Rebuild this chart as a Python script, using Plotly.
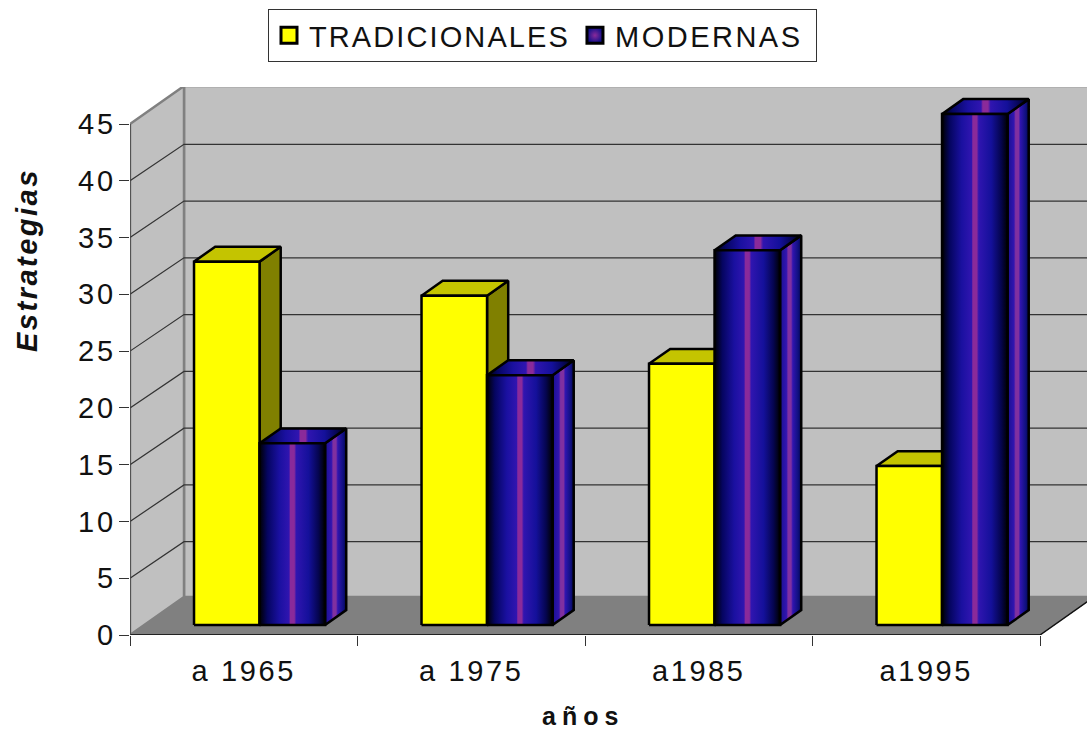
import plotly.graph_objects as go

categories = ["a 1965", "a 1975", "a1985", "a1995"]
tradicionales = [32, 29, 23, 14]
modernas = [16, 22, 33, 45]
y_ticks = [0, 5, 10, 15, 20, 25, 30, 35, 40, 45]

W, H = 1087, 733
L, T, B = 130, 87, 635
X_UNIT = 227.5          # px per category
Y_UNIT = 511 / 45       # px per value unit
DX = 54 / X_UNIT        # depth shift, axis units
DY = 38 / Y_UNIT
DY_GRID = 36.5 / Y_UNIT
X_MAX = (W - L) / X_UNIT
Y_MAX = (B - T) / Y_UNIT
T1, T2 = 0.263, 0.655   # bar front/back depth
GAP, BAR_W = 0.219, 0.288

GRAD_FRONT = [[0, "#000000"], [0.12, "#050560"], [0.3, "#1a10a0"], [0.45, "#3015b0"], [0.47, "#8a2a9a"],
              [0.53, "#8a2a9a"], [0.56, "#3015b0"], [0.75, "#14109a"], [0.9, "#05054f"], [1, "#000000"]]
GRAD_SIDE = [[0, "#1a1090"], [0.3, "#3015b0"], [0.38, "#8030a0"], [0.52, "#8030a0"], [0.6, "#3015b0"],
             [0.85, "#101080"], [1, "#050550"]]


def sp(text, s):
    return f"<span style='letter-spacing:{s}px'>{text}</span>"


def px_x(p):
    return (p - L) / (W - L)


def px_y(p):
    return (B - p) / (B - T)


fig = go.Figure()


def poly(xs, ys, fill=None, grad=None, line="black", width=2.5, name=""):
    kw = dict(fillgradient=dict(type="horizontal", colorscale=grad)) if grad else dict(fillcolor=fill)
    fig.add_trace(go.Scatter(x=xs + xs[:1], y=ys + ys[:1], mode="lines", fill="toself",
                             line=dict(color=line, width=width), showlegend=False,
                             hoverinfo="skip", name=name, **kw))


def seg(xs, ys, color, width, clip=True):
    fig.add_trace(go.Scatter(x=xs, y=ys, mode="lines", line=dict(color=color, width=width),
                             showlegend=False, hoverinfo="skip", cliponaxis=clip))


n = len(categories)
top = y_ticks[-1]

# walls and floor
poly([DX, n + DX, n + DX, DX], [DY, DY, top + DY, top + DY], fill="#C0C0C0", line="#808080", width=2.5, name="back")
poly([0, DX, DX, 0], [0, DY, top + DY, top], fill="#C0C0C0", line="#808080", width=2.5, name="side")
poly([0, n, n + DX, DX], [0, 0, DY, DY], fill="#808080", line="#808080", width=1, name="floor")
seg([n, n + DX], [0, DY], "#111111", 1.5)

# gridlines
for v in y_ticks[1:-1]:
    seg([0, DX, n + DX], [v, v + DY_GRID, v + DY_GRID], "#333333", 1.2)


def bar(x0, value, face=None, top_c=None, side_c=None, grad=None):
    x1 = x0 + BAR_W
    a = lambda x, y, t: (x + t * DX, y + t * DY)
    fl, fr = a(x0, 0, T1), a(x1, 0, T1)
    tl, tr = a(x0, value, T1), a(x1, value, T1)
    bl, br = a(x0, value, T2), a(x1, value, T2)
    br0 = a(x1, 0, T2)
    poly([fr[0], br0[0], br[0], tr[0]], [fr[1], br0[1], br[1], tr[1]], fill=side_c,
         grad=GRAD_SIDE if grad else None, name="side")
    poly([tl[0], tr[0], br[0], bl[0]], [tl[1], tr[1], br[1], bl[1]], fill=top_c, grad=grad, name="top")
    poly([fl[0], fr[0], tr[0], tl[0]], [fl[1], fr[1], tr[1], tl[1]], fill=face, grad=grad, name="front")


for i in range(n):
    bar(i + GAP, tradicionales[i], face="#FFFF00", top_c="#C4C400", side_c="#808000")
    bar(i + GAP + BAR_W, modernas[i], grad=GRAD_FRONT)

# axis lines
seg([0, n], [0, 0], "#222222", 2.2, clip=False)
seg([0, 0], [0, top], "#444444", 1.5, clip=False)

# legend proxies
fig.add_trace(go.Scatter(x=[None], y=[None], mode="markers", name=sp("TRADICIONALES", 2.1),
                         marker=dict(symbol="square", size=16, color="#FFFF00", line=dict(color="black", width=3))))
fig.add_trace(go.Scatter(x=[None], y=[None], mode="markers", name=sp("MODERNA", 2.5) + sp("S", 10),
                         marker=dict(symbol="square", size=16, color="#10108a",
                                     gradient=dict(type="radial", color="#8a2a9a"),
                                     line=dict(color="black", width=3))))

FONT = "Liberation Sans, Arial, sans-serif"
fig.update_layout(
    width=W, height=H, margin=dict(l=L, r=0, t=T, b=H - B, pad=0),
    paper_bgcolor="white", plot_bgcolor="white",
    font=dict(family=FONT, size=29, color="#111111"),
    showlegend=True,
    legend=dict(orientation="h", x=px_x(268), y=px_y(9), xanchor="left", yanchor="top",
                bordercolor="#333333", borderwidth=1, bgcolor="white",
                font=dict(size=29), itemsizing="trace", itemwidth=30, traceorder="normal"),
    xaxis=dict(range=[0, X_MAX], showgrid=False, zeroline=False, showline=False,
               tickmode="array", tickvals=[i + 0.5 for i in range(n)],
               ticktext=[sp(c, 2.6) for c in categories], ticks="outside", ticklen=0, ticklabelstandoff=10,
               minor=dict(tickmode="array", tickvals=list(range(n + 1)), ticks="outside", ticklen=10,
                          tickcolor="#333333", tickwidth=1.2, showgrid=False)),
    yaxis=dict(range=[0, Y_MAX], showgrid=False, zeroline=False, showline=False,
               tickmode="array", tickvals=y_ticks, ticktext=[sp(v, 3) for v in y_ticks],
               ticks="outside", ticklen=10, tickcolor="#333333", tickwidth=1.2, ticklabelstandoff=-3),
    annotations=[
        dict(text=sp("Estrategias", 2.5), xref="paper", yref="paper", x=px_x(27), y=px_y(260),
             showarrow=False, textangle=-90, font=dict(size=29, weight="bold", style="italic"),
             xanchor="center", yanchor="middle"),
        dict(text=sp("años", 6), xref="paper", yref="paper", x=px_x(583), y=px_y(716),
             showarrow=False, font=dict(size=25, weight="bold"), xanchor="center", yanchor="middle"),
    ],
)

fig.write_html("out.html", config=dict(displayModeBar=False),
               post_script="document.body.style.margin='0';document.body.style.overflow='hidden';")
